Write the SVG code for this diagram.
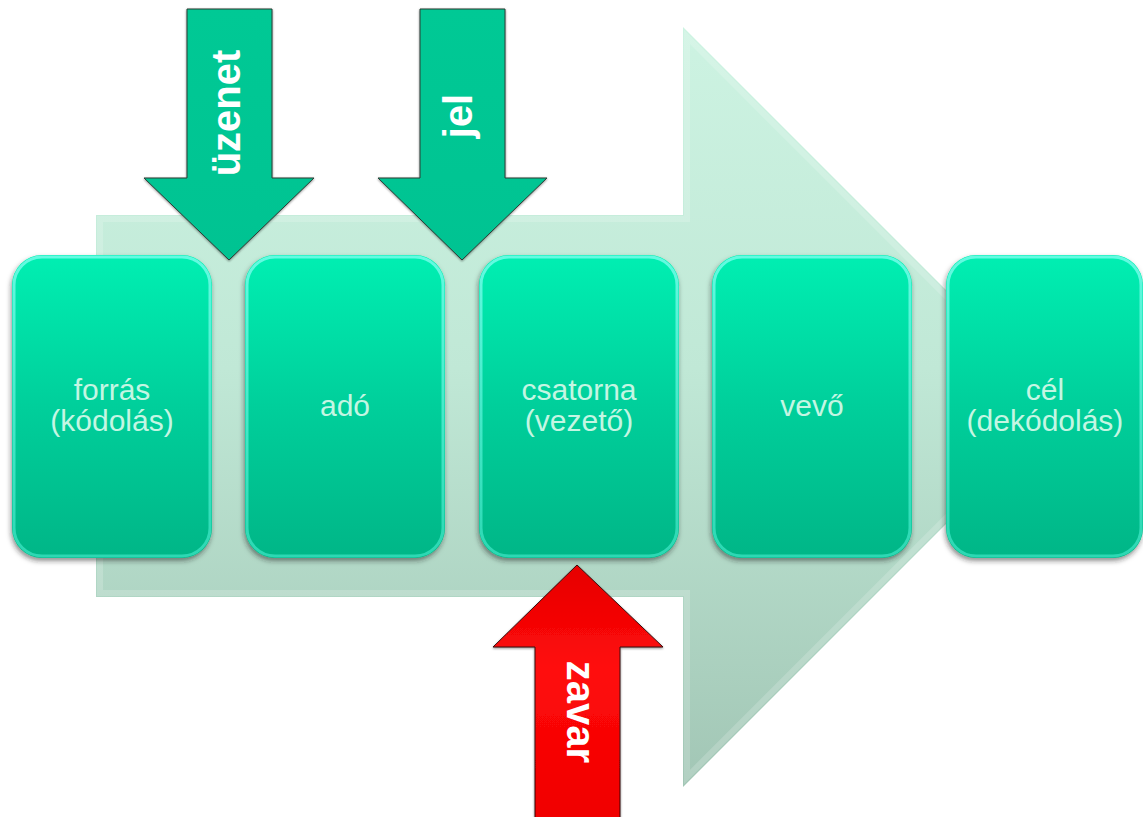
<svg xmlns="http://www.w3.org/2000/svg" width="1143" height="817" viewBox="0 0 1143 817">
  <defs>
    <linearGradient id="flowGrad" x1="0" y1="0" x2="0" y2="1">
      <stop offset="0" stop-color="#cdf3e2"/>
      <stop offset="0.45" stop-color="#c0e8d6"/>
      <stop offset="1" stop-color="#a2c6b5"/>
    </linearGradient>
    <linearGradient id="boxGrad" x1="0" y1="0" x2="0" y2="1">
      <stop offset="0" stop-color="#04efb2"/>
      <stop offset="0.5" stop-color="#00cf9b"/>
      <stop offset="1" stop-color="#00b687"/>
    </linearGradient>
    <linearGradient id="edgeGrad" x1="0" y1="0" x2="0" y2="1">
      <stop offset="0" stop-color="#6ffbe6" stop-opacity="0.9"/>
      <stop offset="1" stop-color="#40e6c6" stop-opacity="0.7"/>
    </linearGradient>
    <linearGradient id="greenArrowGrad" x1="0" y1="0" x2="0" y2="1">
      <stop offset="0" stop-color="#00c995"/>
      <stop offset="1" stop-color="#00c392"/>
    </linearGradient>
    <linearGradient id="redArrowGrad" x1="0" y1="0" x2="0" y2="1">
      <stop offset="0" stop-color="#e60000"/>
      <stop offset="0.4" stop-color="#ff0a0a"/>
      <stop offset="1" stop-color="#f00000"/>
    </linearGradient>
    <filter id="boxShadow" x="-10%" y="-10%" width="120%" height="120%">
      <feDropShadow dx="-1" dy="3" stdDeviation="2.5" flood-color="#202020" flood-opacity="0.5"/>
    </filter>
    <filter id="arrowShadow" x="-10%" y="-10%" width="120%" height="120%">
      <feDropShadow dx="0" dy="1" stdDeviation="1" flood-color="#202020" flood-opacity="0.5"/>
    </filter>
    <style>
      .box { fill: url(#boxGrad); filter: url(#boxShadow); }
      .edge { fill: none; stroke: url(#edgeGrad); stroke-width: 3; }
      .label { font-family: "Liberation Sans", Arial, sans-serif; font-size: 30px; fill: #c4f6e3; text-anchor: middle; }
      .green-arrow { fill: url(#greenArrowGrad); stroke: #2b3d34; stroke-width: 1; filter: url(#arrowShadow); }
      .red-arrow { fill: url(#redArrowGrad); stroke: #3a0a0a; stroke-width: 1; filter: url(#arrowShadow); }
      .arrow-label { font-family: "Liberation Sans", Arial, sans-serif; font-size: 40px; font-weight: bold; fill: #ffffff; text-anchor: middle; }
    </style>
  </defs>

  <!-- big process arrow in the background -->
  <g id="flow-arrow">
    <polygon points="96,215 683,215 683,27 1063,407 683,787 683,597 96,597" fill="url(#flowGrad)"/>
    <polygon points="100,219 687,219 687,37 1057,407 687,777 687,593 100,593" fill="none" stroke="#ffffff" stroke-opacity="0.18" stroke-width="6"/>
  </g>

  <!-- stages -->
  <g id="node-forras">
    <rect class="box" x="12" y="255" width="200" height="303" rx="30"/>
    <rect class="edge" x="14" y="257" width="196" height="299" rx="28"/>
    <text class="label" x="112" y="400">forrás</text>
    <text class="label" x="112" y="431">(kódolás)</text>
  </g>
  <g id="node-ado">
    <rect class="box" x="245" y="255" width="200" height="303" rx="30"/>
    <rect class="edge" x="247" y="257" width="196" height="299" rx="28"/>
    <text class="label" x="345" y="416">adó</text>
  </g>
  <g id="node-csatorna">
    <rect class="box" x="479" y="255" width="200" height="303" rx="30"/>
    <rect class="edge" x="481" y="257" width="196" height="299" rx="28"/>
    <text class="label" x="579" y="400">csatorna</text>
    <text class="label" x="579" y="431">(vezető)</text>
  </g>
  <g id="node-vevo">
    <rect class="box" x="712" y="255" width="200" height="303" rx="30"/>
    <rect class="edge" x="714" y="257" width="196" height="299" rx="28"/>
    <text class="label" x="812" y="416">vevő</text>
  </g>
  <g id="node-cel">
    <rect class="box" x="946" y="255" width="197" height="303" rx="30"/>
    <rect class="edge" x="948" y="257" width="193" height="299" rx="28"/>
    <text class="label" x="1045" y="400">cél</text>
    <text class="label" x="1045" y="431">(dekódolás)</text>
  </g>

  <!-- inputs acting on the chain -->
  <g id="connectors">
    <g id="arrow-uzenet">
      <polygon class="green-arrow" points="187,9 272,9 272,178 314,178 229,260 144,178 187,178"/>
      <text class="arrow-label" transform="translate(240,113) rotate(-90)">üzenet</text>
    </g>
    <g id="arrow-jel">
      <polygon class="green-arrow" points="420,9 505,9 505,178 547,178 462,260 378,178 420,178"/>
      <text class="arrow-label" transform="translate(472,116) rotate(-90)">jel</text>
    </g>
    <g id="arrow-zavar">
      <polygon class="red-arrow" points="577,565 663,647 620,647 620,820 535,820 535,647 493,647"/>
      <text class="arrow-label" transform="translate(567,712) rotate(90)">zavar</text>
    </g>
  </g>
</svg>
